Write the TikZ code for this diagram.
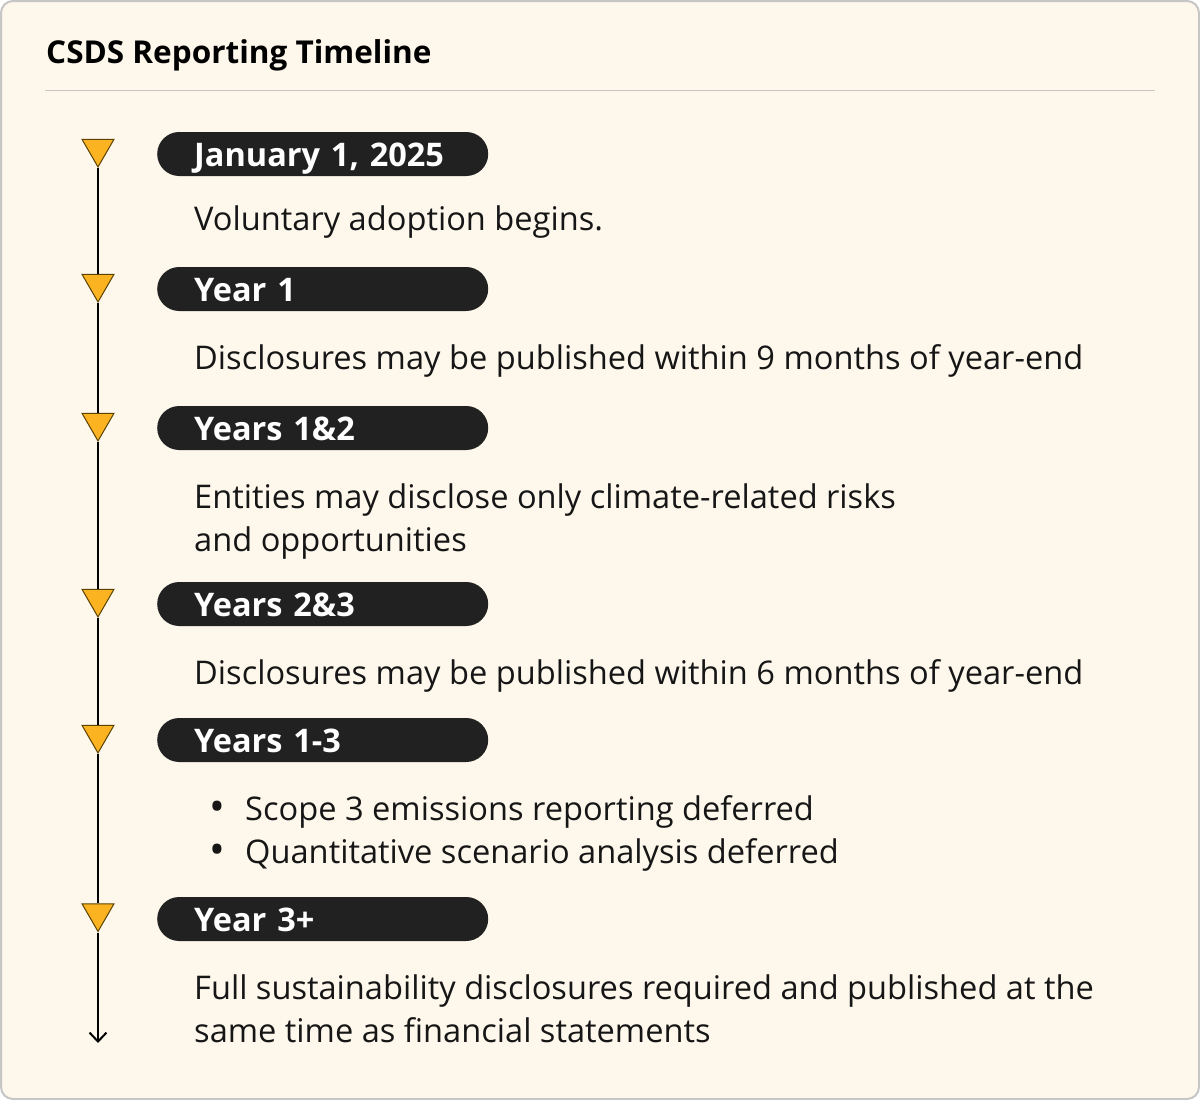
\documentclass[tikz,border=0pt]{standalone}
\usepackage{fontspec}
\setmainfont{Open Sans}
\usetikzlibrary{shapes.geometric,arrows.meta}
\definecolor{bgc}{HTML}{FEF8EC}
\definecolor{bordc}{HTML}{C6C6C6}
\definecolor{pillc}{HTML}{212121}
\definecolor{tric}{HTML}{FBB321}
\definecolor{trio}{HTML}{5A4200}
\definecolor{txtc}{HTML}{161616}
\newcommand{\bodyfont}{\fontsize{32.6}{43}\selectfont}
\tikzset{
  pill/.style={anchor=west, fill=pillc, text=white, rounded corners=22pt,
    minimum width=331pt, text width=257pt, inner xsep=37pt, inner ysep=10pt,
    text height=24pt, text depth=0pt, align=left,
    font=\bfseries\fontsize{32.5}{36}\selectfont},
  tri/.style={regular polygon, regular polygon sides=3, shape border rotate=180,
    minimum size=37pt, inner sep=0pt, fill=tric, draw=trio, line width=1pt},
  body/.style={anchor=base west, inner sep=0pt, text=txtc, font=\bodyfont},
  bul/.style={anchor=base, inner sep=0pt, text=txtc, font=\fontsize{42}{43}\selectfont},
  tline/.style={draw=black, line width=2pt},
}
\begin{document}
\begin{tikzpicture}[x=1pt,y=-1pt]
\useasboundingbox (0,0) rectangle (1200,1100);
\draw[rounded corners=12pt, fill=bgc, draw=bordc, line width=2pt] (1,1) rectangle (1199,1099);
\node[anchor=base west, inner sep=0pt, text=black, font=\bfseries\fontsize{31.5}{36}\selectfont] (title) at (46,63) {CSDS Reporting Timeline};
\coordinate (sepL) at (45,90);
\coordinate (sepR) at (1155,90);
\draw[bordc, line width=1pt] (sepL) -- (sepR);

% pills
\node[pill] (p1) at (157,154) {January 1, 2025};
\node[pill] (p2) at (157,289) {Year 1};
\node[pill] (p3) at (157,428) {Years 1\&2};
\node[pill] (p4) at (157,604) {Years 2\&3};
\node[pill] (p5) at (157,740) {Years 1-3};
\node[pill] (p6) at (157,919) {Year 3+};

% triangles
\node[tri] (t1) at (98,148.5) {};
\node[tri] (t2) at (98,283.5) {};
\node[tri] (t3) at (98,422.5) {};
\node[tri] (t4) at (98,598.5) {};
\node[tri] (t5) at (98,734.5) {};
\node[tri] (t6) at (98,913) {};
\coordinate (tend) at (98,1043);
\draw[tline] (t1.south) -- (t2.north);
\draw[tline] (t2.south) -- (t3.north);
\draw[tline] (t3.south) -- (t4.north);
\draw[tline] (t4.south) -- (t5.north);
\draw[tline] (t5.south) -- (t6.north);
\draw[tline, -{Straight Barb[length=9pt,width=17pt,line width=2pt]}] (t6.south) -- (tend);

% body texts
\node[body] (d1) at (194,230) {Voluntary adoption begins.};
\node[body] (d2) at (194,369) {Disclosures may be published within 9 months of year-end};
\node[body] (d3a) at (194,508) {Entities may disclose only climate-related risks};
\node[body] (d3b) at (194,551) {and opportunities};
\node[body] (d4) at (194,684) {Disclosures may be published within 6 months of year-end};
\node[bul] (b5a) at (217,821) {•};
\node[body] (d5a) at (245,820) {Scope 3 emissions reporting deferred};
\node[bul] (b5b) at (217,864) {•};
\node[body] (d5b) at (245,863) {Quantitative scenario analysis deferred};
\node[body] (d6a) at (194,999) {Full sustainability disclosures required and published at the};
\node[body] (d6b) at (194,1042) {same time as financial statements};
\end{tikzpicture}
\end{document}
